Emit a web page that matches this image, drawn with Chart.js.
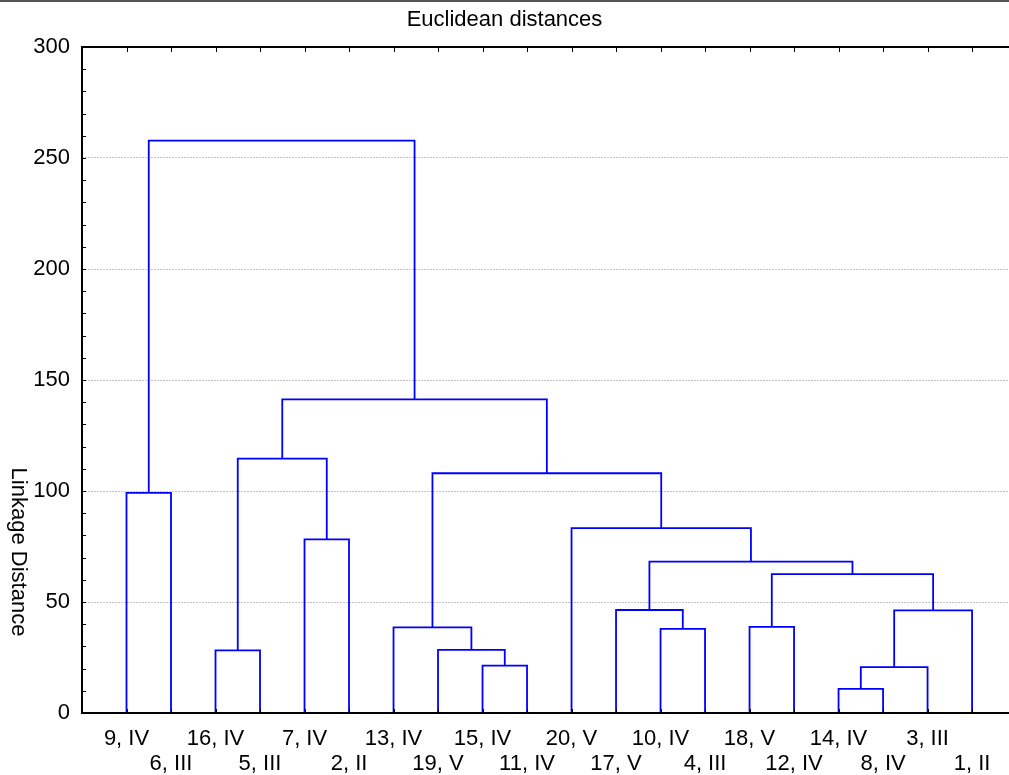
<!DOCTYPE html>
<html>
<head>
<meta charset="utf-8">
<script src="https://cdn.jsdelivr.net/npm/chart.js@4/dist/chart.umd.min.js"></script>
<style>
  html, body { margin: 0; padding: 0; background: #fff; }
  #wrap { width: 1009px; height: 775px; }
</style>
</head>
<body>
<div id="wrap"><canvas id="dendro"></canvas></div>
<script>
// leaves, left to right as they sit under the tree
const leafLabels = [
  '9, IV', '6, III', '16, IV', '5, III', '7, IV', '2, II', '13, IV', '19, V', '15, IV', '11, IV',
  '20, V', '17, V', '10, IV', '4, III', '18, V', '12, IV', '14, IV', '8, IV', '3, III', '1, II'
];

// merge steps: an id < 20 is a leaf, an id >= 20 is the cluster made by step (id - 20)
const mergeLeft   = [16, 20,  8,  2,  7, 12,  6, 14, 21, 11, 27, 29,  4, 10,  0, 26, 23, 36,  34];
const mergeRight  = [17, 18,  9,  3, 22, 13, 24, 15, 19, 25, 28, 30,  5, 31,  1, 33, 32, 35,  37];
const mergeHeight = [10.9, 20.7, 21.3, 28.2, 28.4, 37.9, 38.6, 38.8, 46.2, 46.4,
                     62.6, 68.2, 78.2, 83.3, 99.2, 108.0, 114.6, 141.3, 257.8];

const yTicks = [0, 50, 100, 150, 200, 250, 300];
const chartTitle = 'Euclidean distances';
const yTitle = 'Linkage Distance';

const FONT = '"Liberation Sans", Arial, sans-serif';
const n = leafLabels.length;

// work out where every cluster sits (in data units) and build one U-shaped line per merge
const nodeX = [];
const nodeH = [];
for (let i = 0; i < n; i++) { nodeX[i] = i; nodeH[i] = 0; }
const datasets = [];
for (let k = 0; k < mergeHeight.length; k++) {
  const l = mergeLeft[k], r = mergeRight[k], h = mergeHeight[k];
  datasets.push({
    data: [
      { x: nodeX[l], y: nodeH[l] },
      { x: nodeX[l], y: h },
      { x: nodeX[r], y: h },
      { x: nodeX[r], y: nodeH[r] }
    ],
    showLine: true,
    borderColor: '#0000ff',
    borderWidth: 1.8,
    pointRadius: 0,
    fill: false
  });
  nodeX[n + k] = (nodeX[l] + nodeX[r]) / 2;
  nodeH[n + k] = h;
}

// axis frame, inward ticks and the rotated y title
const framePlugin = {
  id: 'frame',
  beforeDraw(chart) {
    const ctx = chart.ctx;
    ctx.save();
    ctx.fillStyle = '#555555';
    ctx.fillRect(0, 0, chart.width, 2);
    ctx.restore();
  },
  afterDatasetsDraw(chart) {
    const { ctx, chartArea: a, scales: { x, y } } = chart;
    ctx.save();
    ctx.strokeStyle = '#000';
    ctx.lineWidth = 1;
    ctx.beginPath();
    for (let v = 0; v <= 300; v += 10) {
      const py = Math.round(y.getPixelForValue(v)) + 0.5;
      ctx.moveTo(a.left, py);
      ctx.lineTo(a.left + 4, py);
    }
    for (let i = -1; i < n; i++) {
      const px = Math.round(x.getPixelForValue(i)) + 0.5;
      ctx.moveTo(px, a.top);
      ctx.lineTo(px, a.top + 5);
      if (i >= 0) {
        ctx.moveTo(px, a.bottom);
        ctx.lineTo(px, a.bottom - 4);
      }
    }
    ctx.stroke();

    ctx.lineWidth = 2;
    ctx.beginPath();
    ctx.moveTo(a.right, a.top);
    ctx.lineTo(a.left, a.top);
    ctx.lineTo(a.left, a.bottom);
    ctx.lineTo(a.right, a.bottom);
    ctx.stroke();

    ctx.fillStyle = '#000';
    ctx.font = '22px ' + FONT;
    ctx.textAlign = 'center';
    ctx.textBaseline = 'middle';
    ctx.translate(18, 552);
    ctx.rotate(Math.PI / 2);
    ctx.fillText(yTitle, 0, 0);
    ctx.restore();
  }
};

Chart.defaults.font.family = FONT;
Chart.defaults.color = '#000';

new Chart(document.getElementById('dendro'), {
  type: 'scatter',
  data: { datasets: datasets },
  plugins: [framePlugin],
  options: {
    responsive: true,
    maintainAspectRatio: false,
    animation: false,
    layout: { padding: 0 },
    plugins: {
      legend: { display: false },
      tooltip: { enabled: false },
      title: {
        display: true,
        text: chartTitle,
        color: '#000',
        font: { size: 22, weight: 'normal' },
        padding: { top: 7, bottom: 13.6 }
      }
    },
    scales: {
      x: {
        type: 'linear',
        min: -1,
        max: 19.83,
        afterBuildTicks(scale) {
          const t = [{ value: -1 }];
          for (let i = 0; i < n; i++) t.push({ value: i });
          scale.ticks = t;
        },
        afterFit(scale) { scale.height = 62; },
        grid: { display: false, drawTicks: false },
        border: { display: false },
        ticks: {
          autoSkip: false,
          maxRotation: 0,
          minRotation: 0,
          padding: 13.5,
          font: { size: 22, lineHeight: 25 / 22 },
          callback(value) {
            const i = Math.round(value);
            if (i < 0 || i >= n) return '';
            return i % 2 === 0 ? leafLabels[i] : ['', leafLabels[i]];
          }
        }
      },
      y: {
        type: 'linear',
        min: 0,
        max: 300,
        afterBuildTicks(scale) {
          scale.ticks = yTicks.map(v => ({ value: v }));
        },
        afterFit(scale) { scale.width = 82; },
        grid: {
          drawTicks: false,
          lineWidth: 1,
          color: ctx => (ctx.tick && ctx.tick.value > 0 && ctx.tick.value < 300) ? '#c4c4c4' : 'rgba(0,0,0,0)'
        },
        border: { display: false, dash: [2, 1] },
        ticks: {
          autoSkip: false,
          padding: 12,
          font: { size: 22 }
        }
      }
    }
  }
});
</script>
</body>
</html>
